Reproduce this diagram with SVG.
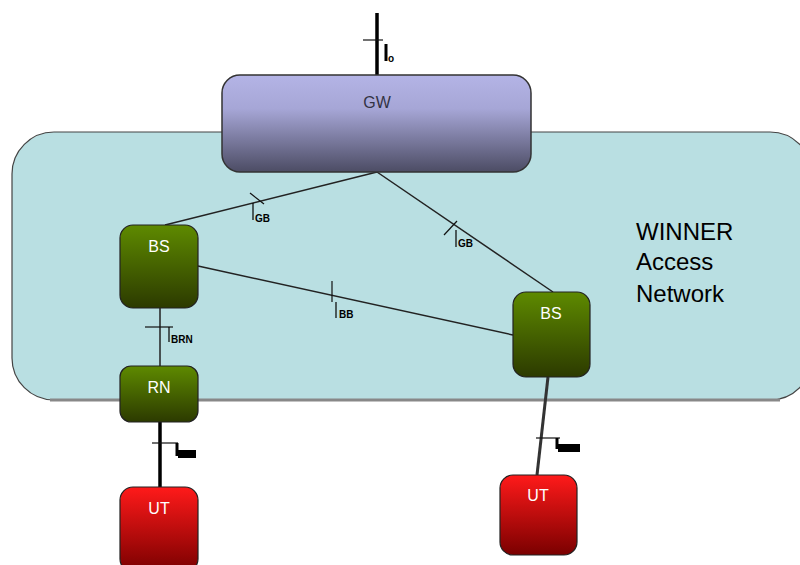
<svg xmlns="http://www.w3.org/2000/svg" width="800" height="565" viewBox="0 0 800 565">
<defs>
<linearGradient id="gw" x1="0" y1="0" x2="0" y2="1"><stop offset="0" stop-color="#b4b4e6"/><stop offset="0.35" stop-color="#a6a6d6"/><stop offset="1" stop-color="#4c4c64"/></linearGradient>
<linearGradient id="gr" x1="0" y1="0" x2="0" y2="1"><stop offset="0" stop-color="#5e8a00"/><stop offset="1" stop-color="#2c3a00"/></linearGradient>
<linearGradient id="rd" x1="0" y1="0" x2="0" y2="1"><stop offset="0" stop-color="#ff1a1a"/><stop offset="1" stop-color="#7a0000"/></linearGradient>
<style>
.nl{font-family:"Liberation Sans",Arial,sans-serif;font-size:16px;fill:#ffffff;text-anchor:middle}
.gl{font-family:"Liberation Sans",Arial,sans-serif;font-size:16px;fill:#333344;text-anchor:middle}
.sub{font-family:"Liberation Sans",Arial,sans-serif;font-size:10px;font-weight:bold;fill:#000}
.big{font-family:"Liberation Sans",Arial,sans-serif;font-size:24px;fill:#000}
.c{stroke:#222;stroke-width:1.5;fill:none}
.t{stroke:#111;stroke-width:1.2}
.k{stroke:#000;stroke-width:3.5}
</style>
</defs>
<g id="access-network">
<rect x="12" y="132" width="800" height="268" rx="42" fill="#b9dfe2" stroke="#444" stroke-width="1.2"/>
<path d="M50 400 H780" stroke="#888" stroke-width="3"/>
<text class="big" x="636" y="240">WINNER</text>
<text class="big" x="636" y="270">Access</text>
<text class="big" x="636" y="302">Network</text>
</g>
<g id="connectors">
<line class="k" x1="377" y1="13" x2="377" y2="75"/>
<line class="t" x1="363" y1="40" x2="383" y2="40" stroke-width="2"/>
<line x1="386" y1="44" x2="386" y2="61" stroke="#000" stroke-width="3"/>
<text class="sub" x="388" y="62" font-size="14">o</text>
<line class="c" x1="377" y1="172" x2="165" y2="225"/>
<line class="t" x1="250" y1="193" x2="264" y2="204"/>
<line x1="253" y1="203" x2="253" y2="220" stroke="#000" stroke-width="1.2"/>
<text class="sub" x="255" y="222">GB</text>
<line class="c" x1="377" y1="172" x2="553" y2="292"/>
<line class="t" x1="444" y1="235" x2="457" y2="221"/>
<line x1="456" y1="230" x2="456" y2="247" stroke="#000" stroke-width="1.2"/>
<text class="sub" x="458" y="247">GB</text>
<line class="c" x1="198" y1="266" x2="513" y2="335"/>
<line class="t" x1="332" y1="281" x2="332" y2="302"/>
<line x1="336" y1="302" x2="336" y2="318" stroke="#000" stroke-width="1.2"/>
<text class="sub" x="339" y="318">BB</text>
<line class="c" x1="160" y1="308" x2="160" y2="366"/>
<line class="t" x1="145" y1="327" x2="173" y2="327"/>
<line x1="169" y1="327" x2="169" y2="342" stroke="#000" stroke-width="1.2"/>
<text class="sub" x="171" y="343" font-size="8">BRN</text>
<line class="k" x1="160" y1="422" x2="160" y2="487"/>
<line class="t" x1="152" y1="443" x2="178" y2="443" stroke-width="2"/>
<line x1="177" y1="443" x2="177" y2="456" stroke="#000" stroke-width="3"/>
<rect x="178" y="450" width="18" height="8" fill="#000"/>
<line x1="548" y1="377" x2="537" y2="475" stroke="#333" stroke-width="3"/>
<line class="t" x1="536" y1="438" x2="560" y2="438" stroke-width="2"/>
<line x1="557" y1="438" x2="557" y2="449" stroke="#000" stroke-width="3"/>
<rect x="558" y="444" width="22" height="8" fill="#000"/>
</g>
<g id="gw">
<rect x="222" y="75" width="309" height="97" rx="18" fill="url(#gw)" stroke="#333" stroke-width="1.5"/>
<text class="gl" x="377" y="108">GW</text>
</g>
<g id="bs-left">
<rect x="120" y="225" width="78" height="83" rx="13" fill="url(#gr)" stroke="#222" stroke-width="1.2"/>
<text class="nl" x="159" y="252">BS</text>
</g>
<g id="rn">
<rect x="120" y="366" width="78" height="56" rx="11" fill="url(#gr)" stroke="#222" stroke-width="1.2"/>
<text class="nl" x="159" y="393">RN</text>
</g>
<g id="bs-right">
<rect x="513" y="292" width="77" height="85" rx="13" fill="url(#gr)" stroke="#222" stroke-width="1.2"/>
<text class="nl" x="551" y="319">BS</text>
</g>
<g id="ut-left">
<rect x="120" y="487" width="78" height="85" rx="13" fill="url(#rd)" stroke="#222" stroke-width="1.2"/>
<text class="nl" x="159" y="514">UT</text>
</g>
<g id="ut-right">
<rect x="500" y="475" width="77" height="80" rx="13" fill="url(#rd)" stroke="#222" stroke-width="1.2"/>
<text class="nl" x="538" y="501">UT</text>
</g>
</svg>
